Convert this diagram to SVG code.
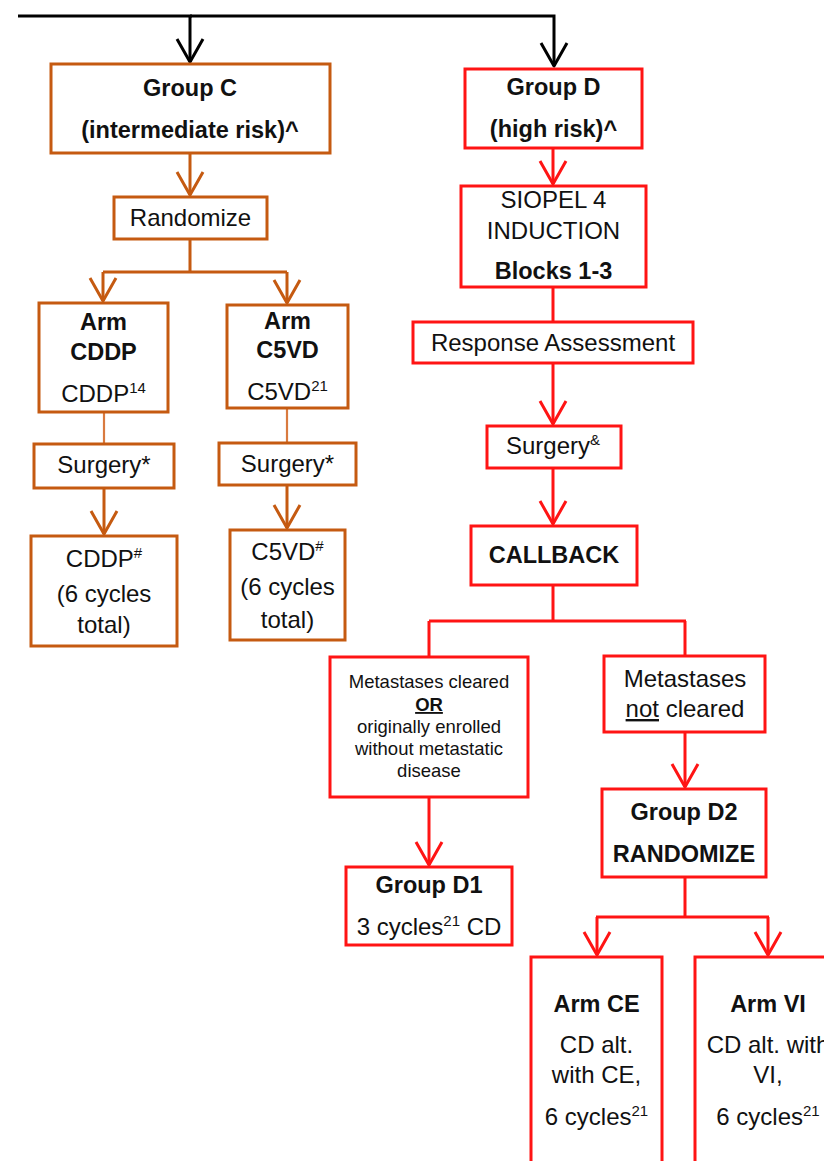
<svg xmlns="http://www.w3.org/2000/svg" width="824" height="1161" viewBox="0 0 824 1161">
<style>
  text { font-family: "Liberation Sans", Arial, sans-serif; font-size: 24px; fill: #111; text-anchor: middle; }
  .b { font-weight: bold; font-size: 23.5px; }
  .s { font-size: 18.5px; }
  .box { fill: #fff; stroke-width: 3; }
  .o { stroke: #C55A11; }
  .r { stroke: #FF1414; }
  .c { fill: none; stroke-width: 3; }
  .co { stroke: #C55A11; }
  .cr { stroke: #FF1414; }
  .ck { stroke: #000; }
  .thin { stroke: #D97A3F; stroke-width: 2.2; }
</style>
<defs>
  <marker id="aK" markerUnits="userSpaceOnUse" orient="auto" refX="0" refY="0" markerWidth="40" markerHeight="40" style="overflow:visible">
    <path d="M-23,-13 L0,0 L-23,13" fill="none" stroke="#000" stroke-width="3" stroke-linejoin="round"/>
  </marker>
  <marker id="aO" markerUnits="userSpaceOnUse" orient="auto" refX="0" refY="0" markerWidth="40" markerHeight="40" style="overflow:visible">
    <path d="M-23,-13 L0,0 L-23,13" fill="none" stroke="#C55A11" stroke-width="3" stroke-linejoin="round"/>
  </marker>
  <marker id="aR" markerUnits="userSpaceOnUse" orient="auto" refX="0" refY="0" markerWidth="40" markerHeight="40" style="overflow:visible">
    <path d="M-23,-13 L0,0 L-23,13" fill="none" stroke="#FF1414" stroke-width="3" stroke-linejoin="round"/>
  </marker>
</defs>
<rect width="824" height="1161" fill="#fff"/>

<g id="connectors">
  <path class="c ck" d="M18,16 H192" stroke-width="4"/>
  <path class="c ck" d="M190,16 H554 V66" stroke-width="2.5" marker-end="url(#aK)"/>
  <path class="c ck" d="M190,16 V62" stroke-width="2.5" marker-end="url(#aK)"/>

  <path class="c co" d="M190,153 V195" marker-end="url(#aO)"/>
  <path class="c co" d="M190,239 V272 M103,272 H287"/>
  <path class="c co" d="M103,272 V301" marker-end="url(#aO)"/>
  <path class="c co" d="M287,272 V303" marker-end="url(#aO)"/>
  <path class="c thin" d="M104,412 V444"/>
  <path class="c thin" d="M287,408 V443"/>
  <path class="c co" d="M104,488 V534" marker-end="url(#aO)"/>
  <path class="c co" d="M287,485 V528" marker-end="url(#aO)"/>

  <path class="c cr" d="M553,148 V184" marker-end="url(#aR)"/>
  <path class="c cr" d="M553,287 V322"/>
  <path class="c cr" d="M553,363 V424" marker-end="url(#aR)"/>
  <path class="c cr" d="M553,468 V524" marker-end="url(#aR)"/>
  <path class="c cr" d="M553,585 V621 M429,621 H686 M429,621 V657 M685,621 V656"/>
  <path class="c cr" d="M685,732 V787" marker-end="url(#aR)"/>
  <path class="c cr" d="M429,797 V865" marker-end="url(#aR)"/>
  <path class="c cr" d="M685,877 V917 M596,917 H769"/>
  <path class="c cr" d="M597,917 V955" marker-end="url(#aR)"/>
  <path class="c cr" d="M768,917 V955" marker-end="url(#aR)"/>
</g>

<g id="groupC">
  <rect class="box o" x="51" y="64" width="279" height="89"/>
  <text class="b" x="190" y="96">Group C</text>
  <text class="b" x="190" y="138">(intermediate risk)^</text>
</g>
<g id="randomizeC">
  <rect class="box o" x="114" y="197" width="153" height="42"/>
  <text x="190.5" y="226">Randomize</text>
</g>
<g id="armCDDP">
  <rect class="box o" x="39" y="303" width="129" height="109"/>
  <text class="b" x="103.5" y="330">Arm</text>
  <text class="b" x="103.5" y="360">CDDP</text>
  <text x="103.5" y="402">CDDP<tspan dy="-9" font-size="15">14</tspan></text>
</g>
<g id="armC5VD">
  <rect class="box o" x="227" y="305" width="121" height="103"/>
  <text class="b" x="287.5" y="329">Arm</text>
  <text class="b" x="287.5" y="358">C5VD</text>
  <text x="287.5" y="400">C5VD<tspan dy="-9" font-size="15">21</tspan></text>
</g>
<g id="surgeryC1">
  <rect class="box o" x="34" y="444" width="140" height="44"/>
  <text x="104" y="473">Surgery*</text>
</g>
<g id="surgeryC2">
  <rect class="box o" x="219" y="443" width="137" height="42"/>
  <text x="287.5" y="472">Surgery*</text>
</g>
<g id="cddpCycles">
  <rect class="box o" x="31" y="536" width="146" height="110"/>
  <text x="104" y="567">CDDP<tspan dy="-9" font-size="15">#</tspan></text>
  <text x="104" y="602">(6 cycles</text>
  <text x="104" y="633">total)</text>
</g>
<g id="c5vdCycles">
  <rect class="box o" x="230" y="530" width="115" height="110"/>
  <text x="287.5" y="560">C5VD<tspan dy="-9" font-size="15">#</tspan></text>
  <text x="287.5" y="595">(6 cycles</text>
  <text x="287.5" y="628">total)</text>
</g>

<g id="groupD">
  <rect class="box r" x="465" y="69" width="177" height="79"/>
  <text class="b" x="553.5" y="95">Group D</text>
  <text class="b" x="553.5" y="137">(high risk)^</text>
</g>
<g id="siopel">
  <rect class="box r" x="461" y="186" width="185" height="101"/>
  <text x="553.5" y="208">SIOPEL 4</text>
  <text x="553.5" y="239">INDUCTION</text>
  <text class="b" x="553.5" y="279">Blocks 1-3</text>
</g>
<g id="response">
  <rect class="box r" x="413" y="322" width="280" height="41"/>
  <text x="553" y="351">Response Assessment</text>
</g>
<g id="surgeryD">
  <rect class="box r" x="487" y="426" width="134" height="42"/>
  <text x="553" y="454">Surgery<tspan dy="-9" font-size="15">&amp;</tspan></text>
</g>
<g id="callback">
  <rect class="box r" x="471" y="526" width="166" height="59"/>
  <text class="b" x="554" y="563">CALLBACK</text>
</g>
<g id="metCleared">
  <rect class="box r" x="330" y="657" width="198" height="140"/>
  <text class="s" x="429" y="688">Metastases cleared</text>
  <text class="s" x="429" y="711" font-weight="bold" text-decoration="underline">OR</text>
  <text class="s" x="429" y="733">originally enrolled</text>
  <text class="s" x="429" y="755">without metastatic</text>
  <text class="s" x="429" y="777">disease</text>
</g>
<g id="metNotCleared">
  <rect class="box r" x="604" y="656" width="161" height="76"/>
  <text x="685" y="687">Metastases</text>
  <text x="685" y="717"><tspan text-decoration="underline">not</tspan> cleared</text>
</g>
<g id="groupD1">
  <rect class="box r" x="346" y="867" width="166" height="78"/>
  <text class="b" x="429" y="893">Group D1</text>
  <text x="429" y="935">3 cycles<tspan dy="-9" font-size="15">21</tspan><tspan dy="9"> CD</tspan></text>
</g>
<g id="groupD2">
  <rect class="box r" x="602" y="789" width="164" height="88"/>
  <text class="b" x="684" y="820">Group D2</text>
  <text class="b" x="684" y="862">RANDOMIZE</text>
</g>
<g id="armCE">
  <rect class="box r" x="531" y="957" width="131" height="220"/>
  <text class="b" x="596.5" y="1012">Arm CE</text>
  <text x="596.5" y="1053">CD alt.</text>
  <text x="596.5" y="1083">with CE,</text>
  <text x="596.5" y="1125">6 cycles<tspan dy="-9" font-size="15">21</tspan></text>
</g>
<g id="armVI">
  <rect class="box r" x="695" y="957" width="150" height="220"/>
  <text class="b" x="768" y="1012">Arm VI</text>
  <text x="768" y="1053">CD alt. with</text>
  <text x="768" y="1083">VI,</text>
  <text x="768" y="1125">6 cycles<tspan dy="-9" font-size="15">21</tspan></text>
</g>
</svg>
